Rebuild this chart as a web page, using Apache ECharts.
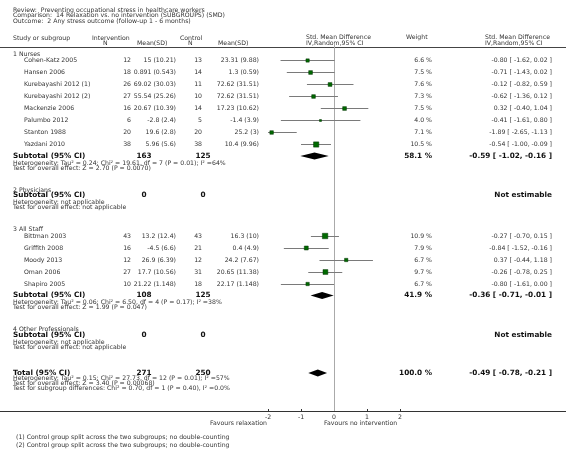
<!DOCTYPE html>
<html>
<head>
<meta charset="utf-8">
<script src="https://cdn.jsdelivr.net/npm/echarts@6/dist/echarts.min.js"></script>
<style>html,body{margin:0;padding:0;background:#fff;}#c{width:566px;height:456px;}</style>
</head>
<body>
<div id="c"></div>
<script>
// ---------------- DATA ----------------
const titleLines = [
  'Review:  Preventing occupational stress in healthcare workers',
  'Comparison:  14 Relaxation vs. no intervention (SUBGROUPS) (SMD)',
  'Outcome:  2 Any stress outcome (follow-up 1 - 6 months)'
];
const groupNames = ['1 Nurses', '2 Physicians', '3 All Staff', '4 Other Professionals'];
const studyNames = ['Cohen-Katz 2005', 'Hansen 2006', 'Kurebayashi 2012 (1)', 'Kurebayashi 2012 (2)',
  'Mackenzie 2006', 'Palumbo 2012', 'Stanton 1988', 'Yazdani 2010',
  'Bittman 2003', 'Griffith 2008', 'Moody 2013', 'Oman 2006', 'Shapiro 2005'];
const studyGroup = [0, 0, 0, 0, 0, 0, 0, 0, 2, 2, 2, 2, 2];
const intN    = [12, 18, 26, 27, 16, 6, 20, 38, 43, 16, 12, 27, 10];
const intMean = [15, 0.891, 69.02, 55.54, 20.67, -2.8, 19.6, 5.96, 13.2, -4.5, 26.9, 17.7, 21.22];
const intSD   = [10.21, 0.543, 30.03, 25.26, 10.39, 2.4, 2.8, 5.6, 12.4, 6.6, 6.39, 10.56, 1.148];
const ctrlN    = [13, 14, 11, 10, 14, 5, 20, 38, 43, 21, 12, 31, 18];
const ctrlMean = [23.31, 1.3, 72.62, 72.62, 17.23, -1.4, 25.2, 10.4, 16.3, 0.4, 24.2, 20.65, 22.17];
const ctrlSD   = [9.88, 0.59, 31.51, 31.51, 10.62, 3.9, 3, 9.96, 10, 4.9, 7.67, 11.38, 1.148];
const weights  = [6.6, 7.5, 7.6, 7.3, 7.5, 4.0, 7.1, 10.5, 10.9, 7.9, 6.7, 9.7, 6.7];
const smd      = [-0.80, -0.71, -0.12, -0.62, 0.32, -0.41, -1.89, -0.54, -0.27, -0.84, 0.37, -0.26, -0.80];
const ciLow    = [-1.62, -1.43, -0.82, -1.36, -0.40, -1.61, -2.65, -1.00, -0.70, -1.52, -0.44, -0.78, -1.61];
const ciHigh   = [0.02, 0.02, 0.59, 0.12, 1.04, 0.80, -1.13, -0.09, 0.15, -0.16, 1.18, 0.25, 0.00];

const subIntN   = [163, 0, 108, 0];
const subCtrlN  = [125, 0, 125, 0];
const subWeight = [58.1, null, 41.9, null];
const subSmd    = [-0.59, null, -0.36, null];
const subLow    = [-1.02, null, -0.71, null];
const subHigh   = [-0.16, null, -0.01, null];
const subHet = [
  'Heterogeneity: Tau\u00b2 = 0.24; Chi\u00b2 = 19.61, df = 7 (P = 0.01); I\u00b2 =64%',
  'Heterogeneity: not applicable',
  'Heterogeneity: Tau\u00b2 = 0.06; Chi\u00b2 = 6.50, df = 4 (P = 0.17); I\u00b2 =38%',
  'Heterogeneity: not applicable'
];
const subTest = [
  'Test for overall effect: Z = 2.70 (P = 0.0070)',
  'Test for overall effect: not applicable',
  'Test for overall effect: Z = 1.99 (P = 0.047)',
  'Test for overall effect: not applicable'
];
const totIntN = 271, totCtrlN = 250, totWeight = 100.0;
const totSmd = -0.49, totLow = -0.78, totHigh = -0.21;
const totLines = [
  'Heterogeneity: Tau\u00b2 = 0.15; Chi\u00b2 = 27.73, df = 12 (P = 0.01); I\u00b2 =57%',
  'Test for overall effect: Z = 3.40 (P = 0.00068)',
  'Test for subgroup differences: Chi\u00b2 = 0.70, df = 1 (P = 0.40), I\u00b2 =0.0%'
];
const axisTicks = [-2, -1, 0, 1, 2];
const favoursLeft = 'Favours relaxation';
const favoursRight = 'Favours no intervention';
const footnotes = [
  '(1) Control group split across the two subgroups; no double-counting',
  '(2) Control group split across the two subgroups; no double-counting'
];

// ---------------- LAYOUT ----------------
const W = 566, H = 456;
const ZERO_PX = 334, UNIT = 33;        // pixel of 0 and px per unit
const AXIS_Y = 411;
const XMIN = -ZERO_PX / UNIT, XMAX = (W - ZERO_PX) / UNIT;
const FONT = 'DejaVu Sans';
const FS = 6.2, FSB = 7.3;
const C_TXT = '#333', C_BOLD = '#111';

const col = { name: 24, head: 13, intN: 131, intMS: 176, ctrlN: 202, ctrlMS: 259,
              subIntN: 144, subCtrlN: 203, weight: 432, ci: 552 };

const texts = [];
function txt(x, y, s, align, bold, size, color) {
  texts.push({ type: 'text', silent: true, style: {
    x: x, y: y, text: s, align: align || 'left', verticalAlign: 'middle',
    font: (bold ? 'bold ' : '') + (size || FS) + 'px "' + FONT + '"',
    fill: color || (bold ? C_BOLD : C_TXT) } });
}
const fmtCI = (e, l, h) => e.toFixed(2) + ' [ ' + l.toFixed(2) + ', ' + h.toFixed(2) + ' ]';

// header
txt(13, 10, titleLines[0]);
txt(13, 15.5, titleLines[1]);
txt(13, 21, titleLines[2]);
txt(13, 38, 'Study or subgroup');
txt(92, 38, 'Intervention');
txt(103, 43.5, 'N');
txt(137, 43.5, 'Mean(SD)');
txt(180, 38, 'Control');
txt(188, 43.5, 'N');
txt(218, 43.5, 'Mean(SD)');
txt(306, 37.5, 'Std. Mean Difference');
txt(306, 43, 'IV,Random,95% CI');
txt(406, 37.5, 'Weight');
txt(485, 37.5, 'Std. Mean Difference');
txt(485, 43, 'IV,Random,95% CI');

const ciData = [], sqData = [], dmData = [];
let y = 54;
groupNames.forEach((g, gi) => {
  txt(13, y, g);
  const idx = studyGroup.map((s, i) => s === gi ? i : -1).filter(i => i >= 0);
  let ry = y;
  idx.forEach((i, k) => {
    ry = (k === 0) ? y + 6.5 : ry + 12;
    txt(col.name, ry, studyNames[i]);
    txt(col.intN, ry, String(intN[i]), 'right');
    txt(col.intMS, ry, intMean[i] + ' (' + intSD[i] + ')', 'right');
    txt(col.ctrlN, ry, String(ctrlN[i]), 'right');
    txt(col.ctrlMS, ry, ctrlMean[i] + ' (' + ctrlSD[i] + ')', 'right');
    txt(col.weight, ry, weights[i].toFixed(1) + ' %', 'right');
    txt(col.ci, ry, fmtCI(smd[i], ciLow[i], ciHigh[i]), 'right');
    ciData.push([ciLow[i], ciHigh[i], ry]);
    sqData.push([smd[i], ry, weights[i]]);
  });
  const sy = idx.length ? ry + 11.5 : y + 5.5;
  txt(col.head, sy, 'Subtotal (95% CI)', 'left', true, FSB);
  txt(col.subIntN, sy, String(subIntN[gi]), 'center', true, FSB);
  txt(col.subCtrlN, sy, String(subCtrlN[gi]), 'center', true, FSB);
  if (subSmd[gi] !== null) {
    txt(col.weight, sy, subWeight[gi].toFixed(1) + ' %', 'right', true, FSB);
    txt(col.ci, sy, fmtCI(subSmd[gi], subLow[gi], subHigh[gi]), 'right', true, FSB);
    dmData.push([subSmd[gi], subLow[gi], subHigh[gi], sy]);
  } else {
    txt(col.ci, sy, 'Not estimable', 'right', true, FSB);
  }
  txt(col.head, sy + 7, subHet[gi]);
  txt(col.head, sy + 12, subTest[gi]);
  y = sy + 12 + 22;
});
const ty = y - 22 + 26;
txt(col.head, ty, 'Total (95% CI)', 'left', true, FSB);
txt(col.subIntN, ty, String(totIntN), 'center', true, FSB);
txt(col.subCtrlN, ty, String(totCtrlN), 'center', true, FSB);
txt(col.weight, ty, totWeight.toFixed(1) + ' %', 'right', true, FSB);
txt(col.ci, ty, fmtCI(totSmd, totLow, totHigh), 'right', true, FSB);
dmData.push([totSmd, totLow, totHigh, ty]);
totLines.forEach((s, k) => txt(col.head, ty + 5.5 + 5 * k, s));

txt(267, 423, favoursLeft, 'right');
txt(324, 423, favoursRight, 'left');
txt(16, 437, footnotes[0]);
txt(16, 445.5, footnotes[1]);

// frame lines (header rule, baseline, zero line) tied to the same layout constants as the axis scale
texts.push({ type: 'rect', silent: true, z: 1, shape: { x: 0, y: 47, width: W, height: 1 }, style: { fill: '#444' } });
texts.push({ type: 'rect', silent: true, z: 1, shape: { x: 0, y: AXIS_Y, width: W, height: 1 }, style: { fill: '#333' } });
texts.push({ type: 'rect', silent: true, z: 1, shape: { x: ZERO_PX, y: 43, width: 1, height: AXIS_Y - 43 }, style: { fill: '#aaa' } });
axisTicks.forEach(t => texts.push({ type: 'rect', silent: true, z: 1,
  shape: { x: Math.round(ZERO_PX + t * UNIT), y: AXIS_Y - 2, width: 1, height: 2 }, style: { fill: '#333' } }));

// ---------------- CHART ----------------
const chart = echarts.init(document.getElementById('c'));
chart.setOption({
  animation: false,
  grid: { left: 0, right: 0, top: 0, height: AXIS_Y },
  xAxis: {
    type: 'value', min: XMIN, max: XMAX,
    axisLine: { show: true, onZero: false, lineStyle: { color: '#333', width: 1 } },
    axisTick: { show: false },
    axisLabel: { customValues: axisTicks, margin: 3, fontSize: FS, fontFamily: FONT, color: C_TXT },
    splitLine: { show: false }
  },
  yAxis: { type: 'value', min: 0, max: AXIS_Y, inverse: true, show: false },
  series: [
    {
      type: 'custom', name: 'frame', data: [[0, 43, AXIS_Y]], clip: false, z: 5,
      renderItem: (params, api) => {
        const a = api.coord([api.value(0), api.value(1)]);
        const b = api.coord([api.value(0), api.value(2)]);
        const x0 = Math.round(a[0]);
        const yb = Math.round(b[1]);
        return { type: 'rect', shape: { x: x0, y: a[1], width: 1, height: yb - a[1] }, style: { fill: '#aaaaaa' } };
      }
    },
    {
      type: 'custom', name: 'ci', data: ciData, clip: false, z: 6,
      renderItem: (params, api) => {
        const ry = api.value(2);
        const lo = Math.max(api.value(0), axisTicks[0]);
        const hi = Math.min(api.value(1), axisTicks[axisTicks.length - 1]);
        const p1 = api.coord([lo, ry]), p2 = api.coord([hi, ry]);
        return { type: 'rect', shape: { x: p1[0], y: Math.floor(p1[1]), width: p2[0] - p1[0], height: 1 },
                 style: { fill: '#7a7a7a' } };
      }
    },
    {
      type: 'scatter', name: 'est', data: sqData, symbol: 'rect', z: 7,
      symbolSize: v => Math.max(1.5, v[2] * 0.5),
      itemStyle: { color: '#006a00', borderColor: '#003300', borderWidth: 0.5, opacity: 1 }
    },
    {
      type: 'custom', name: 'diamond', data: dmData, clip: false, z: 8,
      renderItem: (params, api) => {
        const ry = api.value(3);
        const c = api.coord([api.value(0), ry]);
        const l = api.coord([api.value(1), ry]);
        const r = api.coord([api.value(2), ry]);
        const h = 3.5;
        return { type: 'polygon', shape: { points: [[l[0], c[1]], [c[0], c[1] - h], [r[0], c[1]], [c[0], c[1] + h]] },
                 style: { fill: '#000' } };
      }
    }
  ],
  graphic: texts
});
</script>
</body>
</html>
